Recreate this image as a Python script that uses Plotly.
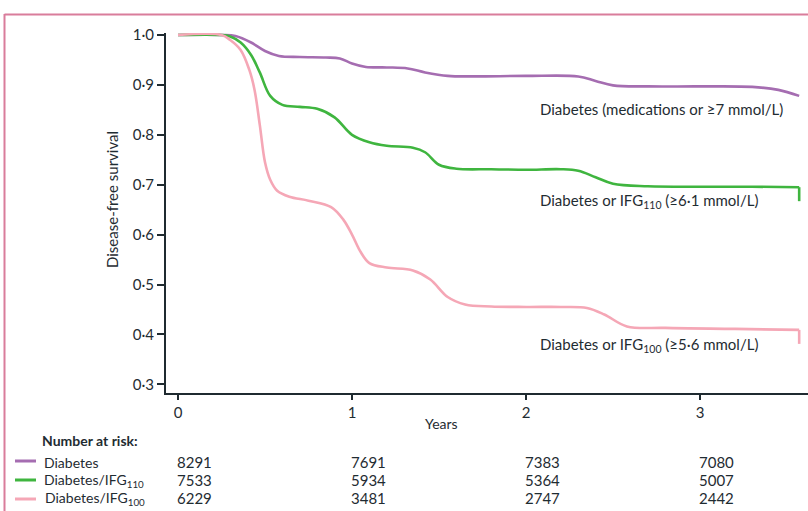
import plotly.graph_objects as go

# ---------------- data ----------------
years_ticks = [0, 1, 2, 3]
surv_ticks = [0.3, 0.4, 0.5, 0.6, 0.7, 0.8, 0.9, 1.0]
surv_ticktext = ["0·3", "0·4", "0·5", "0·6", "0·7", "0·8", "0·9", "1·0"]

diab_x = [0, 0.25, 0.33, 0.42, 0.5, 0.58, 0.7, 0.85, 0.93, 1.0, 1.08, 1.2, 1.32, 1.42, 1.55, 1.7,
          2.0, 2.3, 2.4, 2.5, 2.7, 3.0, 3.3, 3.45, 3.57]
diab_y = [1.0, 1.0, 0.998, 0.985, 0.968, 0.958, 0.956, 0.955, 0.953, 0.943, 0.936, 0.935, 0.933,
          0.925, 0.918, 0.917, 0.918, 0.917, 0.908, 0.899, 0.897, 0.897, 0.896, 0.89, 0.878]

ifg110_x = [0, 0.25, 0.3, 0.36, 0.42, 0.47, 0.53, 0.6, 0.7, 0.8, 0.9, 1.0, 1.1, 1.2, 1.35, 1.42,
            1.5, 1.6, 1.8, 2.0, 2.2, 2.3, 2.4, 2.5, 2.7, 3.0, 3.3, 3.57, 3.57]
ifg110_y = [1.0, 1.0, 0.997, 0.985, 0.96, 0.925, 0.878, 0.86, 0.856, 0.852, 0.835, 0.80, 0.785,
            0.778, 0.774, 0.765, 0.74, 0.732, 0.731, 0.730, 0.731, 0.728, 0.715, 0.702, 0.697,
            0.696, 0.696, 0.695, 0.667]

ifg100_x = [0, 0.25, 0.3, 0.36, 0.41, 0.44, 0.47, 0.5, 0.53, 0.57, 0.64, 0.75, 0.88, 0.95, 1.0,
            1.05, 1.1, 1.2, 1.35, 1.45, 1.55, 1.65, 1.8, 2.0, 2.2, 2.35, 2.45, 2.58, 2.8, 3.2,
            3.57, 3.57]
ifg100_y = [1.0, 1.0, 0.99, 0.97, 0.93, 0.89, 0.82, 0.745, 0.71, 0.688, 0.676, 0.668, 0.655,
            0.63, 0.6, 0.565, 0.543, 0.534, 0.528, 0.51, 0.475, 0.46, 0.456, 0.455, 0.455, 0.453,
            0.44, 0.416, 0.413, 0.411, 0.409, 0.381]

risk_diab = [8291, 7691, 7383, 7080]
risk_ifg110 = [7533, 5934, 5364, 5007]
risk_ifg100 = [6229, 3481, 2747, 2442]

series_names = ["Diabetes", "Diabetes/IFG<sub>110</sub>", "Diabetes/IFG<sub>100</sub>"]
curve_labels = ["Diabetes (medications or ≥7 mmol/L)",
                "Diabetes or IFG<sub>110</sub> (≥6·1 mmol/L)",
                "Diabetes or IFG<sub>100</sub> (≥5·6 mmol/L)"]
label_y = [0.852, 0.667, 0.379]

# ---------------- style ----------------
colors = ["#a56db1", "#3fb53f", "#f5a7b6"]
txt = "#1f2c32"
axis_col = "#1f2a30"
FONT = "Lato"
W, H = 808, 511
ML, MR, MT, MB = 166, 0, 33, 118
PW, PH = W - ML - MR, H - MT - MB


def px_x(px):
    return (px - ML) / PW


def px_y(py):
    return (H - MB - py) / PH


fig = go.Figure()
for xs, ys, c in [(diab_x, diab_y, colors[0]), (ifg110_x, ifg110_y, colors[1]),
                  (ifg100_x, ifg100_y, colors[2])]:
    if len(xs) >= 2 and xs[-1] == xs[-2]:
        main_x, main_y = xs[:-1], ys[:-1]
        fig.add_trace(go.Scatter(x=xs[-2:], y=ys[-2:], mode="lines",
                                 line=dict(color=c, width=2.6), hoverinfo="skip",
                                 showlegend=False))
    else:
        main_x, main_y = xs, ys
    fig.add_trace(go.Scatter(x=main_x, y=main_y, mode="lines",
                             line=dict(color=c, width=2.6, shape="spline", smoothing=1.0),
                             showlegend=False))

annotations = []
# curve labels
for lab, yv in zip(curve_labels, label_y):
    annotations.append(dict(x=2.07, y=yv, xref="x", yref="y", text=lab, showarrow=False,
                            xanchor="left", yanchor="middle",
                            font=dict(family=FONT, size=15, color=txt)))
# axis titles
annotations.append(dict(x=px_x(112), y=px_y(200), xref="paper", yref="paper",
                        text="Disease-free survival", textangle=-90, showarrow=False,
                        xanchor="center", yanchor="middle",
                        font=dict(family=FONT, size=15, color=txt)))
annotations.append(dict(x=1.517, y=px_y(424), xref="x", yref="paper", text="Years",
                        showarrow=False, xanchor="center", yanchor="middle",
                        font=dict(family=FONT, size=14, color=txt)))
# number at risk
annotations.append(dict(x=px_x(40), y=px_y(440), xref="paper", yref="paper",
                        text="<b>Number at risk:</b>", showarrow=False, xanchor="left",
                        yanchor="middle", font=dict(family=FONT, size=14, color=txt)))
row_py = [462, 480, 498]
shapes = []
for i, (name, risks) in enumerate(zip(series_names, [risk_diab, risk_ifg110, risk_ifg100])):
    ry = px_y(row_py[i])
    annotations.append(dict(x=px_x(42 if i < 2 else 43), y=ry, xref="paper", yref="paper",
                            text=name, showarrow=False, xanchor="left", yanchor="middle",
                            font=dict(family=FONT, size=14, color=txt)))
    for t, r in zip(years_ticks, risks):
        annotations.append(dict(x=t - 0.018, y=ry, xref="x", yref="paper", text=str(r),
                                showarrow=False, xanchor="left", yanchor="middle",
                                font=dict(family=FONT, size=15, color=txt)))
    shapes.append(dict(type="line", xref="paper", yref="paper", x0=px_x(15), x1=px_x(36),
                       y0=px_y(row_py[i] - 1 + i), y1=px_y(row_py[i] - 1 + i),
                       line=dict(color=colors[i], width=3)))

# pink frame
frame = "#d97d9b"
shapes.append(dict(type="line", xref="paper", yref="paper", x0=px_x(4.5), x1=px_x(812),
                   y0=px_y(14.5), y1=px_y(14.5), line=dict(color=frame, width=2)))
shapes.append(dict(type="line", xref="paper", yref="paper", x0=px_x(4.5), x1=px_x(4.5),
                   y0=px_y(14), y1=px_y(515), line=dict(color=frame, width=2)))

x0 = (166 - 178) / 174
x1 = (808 - 178) / 174
fig.update_layout(
    width=W, height=H, margin=dict(l=ML, r=MR, t=MT, b=MB),
    plot_bgcolor="white", paper_bgcolor="white",
    annotations=annotations, shapes=shapes,
    xaxis=dict(range=[x0, x1], tickvals=years_ticks, ticktext=[str(t) for t in years_ticks],
               showgrid=False, zeroline=False, showline=True, linecolor=axis_col,
               linewidth=2, ticks="outside", ticklen=5, tickwidth=1.5, tickcolor=axis_col,
               tickfont=dict(family=FONT, size=15, color=txt)),
    yaxis=dict(range=[1.0 - (393 - 35) / 499, 1.0 + 2 / 499], tickvals=surv_ticks,
               ticktext=surv_ticktext, showgrid=False, zeroline=False, showline=True,
               linecolor=axis_col, linewidth=2, ticks="outside", ticklen=7, tickwidth=1.5,
               tickcolor=axis_col, tickfont=dict(family=FONT, size=15, color=txt)),
)

fig.write_html("out.html", config={"displayModeBar": False},
               post_script="document.body.style.margin='0';document.body.style.overflow='hidden';")
